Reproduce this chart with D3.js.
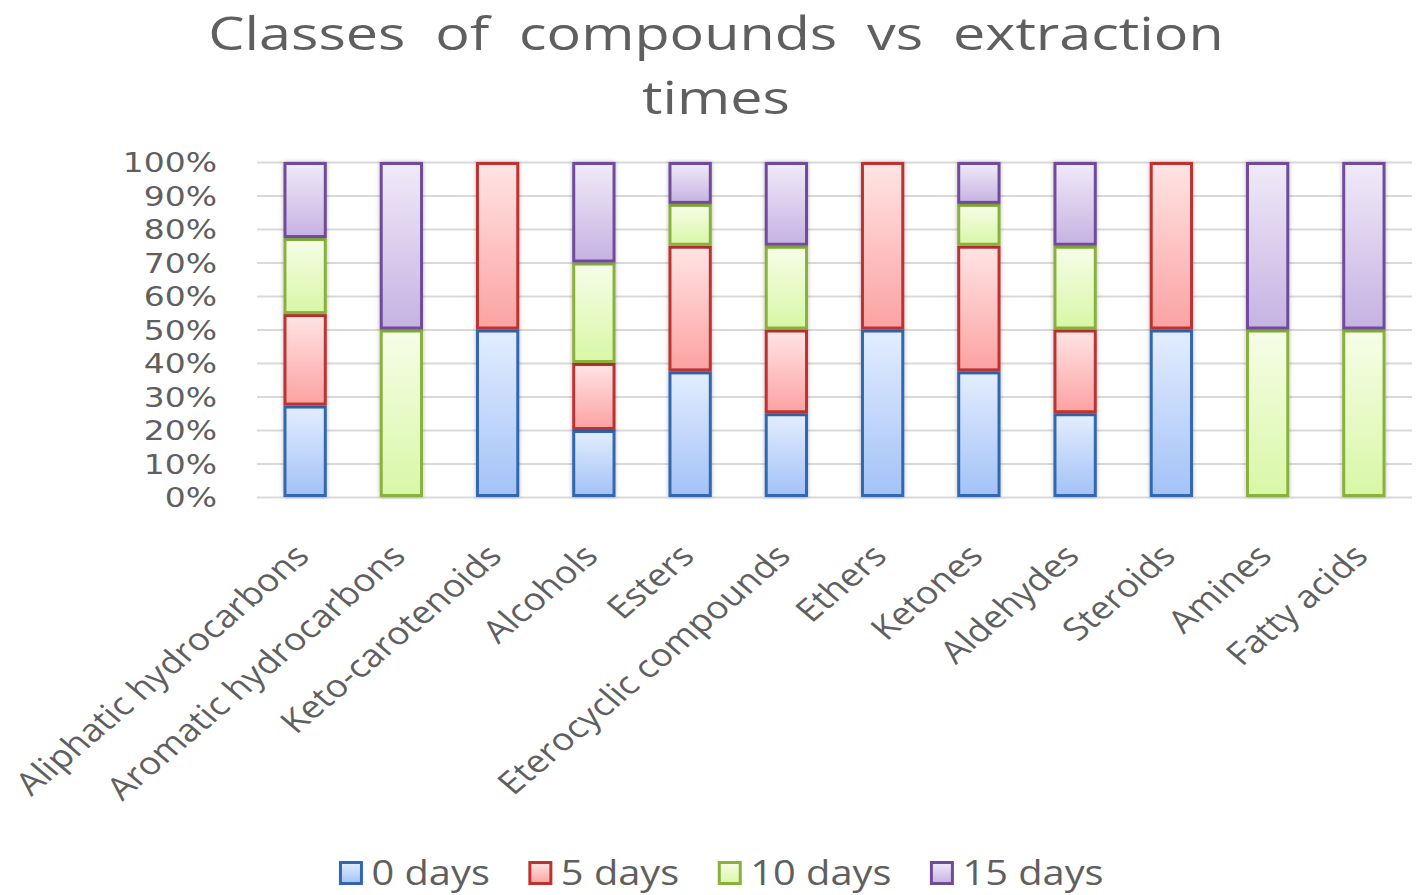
<!DOCTYPE html>
<html>
<head>
<meta charset="utf-8">
<script src="https://cdn.jsdelivr.net/npm/d3@7"></script>
<style>
  html, body { margin: 0; padding: 0; background: #ffffff; }
  svg { display: block; }
</style>
</head>
<body>
<svg id="chart" width="1418" height="895"></svg>
<script>
// ---------- data ----------
const titleLines = ["Classes  of  compounds  vs  extraction", "times"];
const categories = ["Aliphatic hydrocarbons", "Aromatic hydrocarbons", "Keto-carotenoids", "Alcohols",
  "Esters", "Eterocyclic compounds", "Ethers", "Ketones", "Aldehydes", "Steroids", "Amines", "Fatty acids"];
const seriesNames = ["0 days", "5 days", "10 days", "15 days"];
const days0  = [27.3, 0, 50, 20, 37.5, 25, 50, 37.5, 25, 50, 0, 0];
const days5  = [27.3, 0, 50, 20, 37.5, 25, 50, 37.5, 25, 50, 0, 0];
const days10 = [22.7, 50, 0, 30, 12.5, 25, 0, 12.5, 25, 0, 50, 50];
const days15 = [22.7, 50, 0, 30, 12.5, 25, 0, 12.5, 25, 0, 50, 50];
const yTicks = [0, 10, 20, 30, 40, 50, 60, 70, 80, 90, 100];

// ---------- styles ----------
const strokeColors = ["#3167b1", "#bd3330", "#89b13b", "#6f4c9b"];
const gradTop      = ["#e3edfe", "#ffe4e4", "#f6fde8", "#f0eaf8"];
const gradBottom   = ["#a3c2f7", "#fca2a2", "#d8f7a6", "#c6b2e2"];
const textColor = "#5f5f5f";
const stretch = 1.17;

const svg = d3.select("#chart");
const defs = svg.append("defs");
seriesNames.forEach((s, i) => {
  const g = defs.append("linearGradient").attr("id", "grad" + i)
    .attr("x1", 0).attr("y1", 0).attr("x2", 0).attr("y2", 1);
  g.append("stop").attr("offset", "0%").attr("stop-color", gradTop[i]);
  g.append("stop").attr("offset", "100%").attr("stop-color", gradBottom[i]);
});
const f = defs.append("filter").attr("id", "shadow").attr("x", "-30%").attr("y", "-10%").attr("width", "160%").attr("height", "120%");
f.append("feDropShadow").attr("dx", 0).attr("dy", 0).attr("stdDeviation", 2.2)
  .attr("flood-color", "#000").attr("flood-opacity", 0.28);

// ---------- scales ----------
const plot = { left: 257, right: 1412, top: 162, bottom: 497 };
const x = d3.scaleBand().domain(categories).range([plot.left, plot.right])
  .paddingInner(0.55).paddingOuter(0.275);
const y = d3.scaleLinear().domain([0, 100]).range([plot.bottom, plot.top]);

// ---------- title ----------
const title = svg.append("g").attr("font-family", "'Open Sans', sans-serif")
  .attr("font-size", 46).attr("fill", textColor);
const titleY = [50, 114];
titleLines.forEach((t, i) => {
  title.append("text").attr("text-anchor", "middle")
    .attr("transform", `translate(716,${titleY[i]}) scale(1.25,1)`)
    .style("white-space", "pre").attr("xml:space", "preserve")
    .text(t);
});

// ---------- y axis + grid ----------
const yAxis = d3.axisLeft(y).tickValues(yTicks).tickFormat(d => d + "%")
  .tickSizeInner(-(plot.right - plot.left)).tickSizeOuter(0).tickPadding(41);
const yg = svg.append("g").attr("transform", `translate(${plot.left},0)`).call(yAxis);
yg.select(".domain").remove();
yg.selectAll(".tick line").attr("stroke", "#d9d9d9").attr("stroke-width", 2);
yg.selectAll(".tick text")
  .attr("font-family", "'DejaVu Sans', sans-serif").attr("font-size", 27)
  .attr("fill", textColor)
  .attr("x", -40 / 1.22).attr("dy", "0.36em")
  .attr("transform", "scale(1.22,1)");

// ---------- bars ----------
const seriesData = [days0, days5, days10, days15];
const table = categories.map((c, i) => {
  const o = { category: c };
  seriesNames.forEach((s, k) => o[s] = seriesData[k][i]);
  return o;
});
const stacked = d3.stack().keys(seriesNames)(table);
const barsG = svg.append("g");
stacked.forEach((layer, k) => {
  barsG.append("g")
    .selectAll("rect")
    .data(layer.filter(d => d[1] - d[0] > 0))
    .join("rect")
    .attr("x", d => x(d.data.category) + 1.5)
    .attr("width", x.bandwidth() - 3)
    .attr("y", d => y(d[1]) + 1.5)
    .attr("height", d => y(d[0]) - y(d[1]) - 3)
    .attr("fill", `url(#grad${k})`)
    .attr("stroke", strokeColors[k])
    .attr("stroke-width", 3)
    .attr("filter", "url(#shadow)");
});

// ---------- x axis labels ----------
const xAxis = d3.axisBottom(x).tickSize(0).tickPadding(0);
const xg = svg.append("g").attr("transform", `translate(0,${plot.bottom})`).call(xAxis);
xg.select(".domain").remove();
xg.selectAll(".tick text")
  .attr("font-family", "'Open Sans', sans-serif").attr("font-size", 31.5)
  .attr("fill", textColor)
  .attr("text-anchor", "end")
  .attr("x", 0).attr("y", 0).attr("dy", "0.35em")
  .attr("transform", `translate(-3,53) scale(${stretch},1) rotate(-45)`);

// ---------- legend ----------
const legend = svg.append("g").attr("font-family", "'Open Sans', sans-serif")
  .attr("font-size", 34).attr("fill", textColor);
const legendY = 873, sq = 21, gapText = 10, gapItem = 40;
const items = seriesNames.map((s, i) => {
  const g = legend.append("g");
  g.append("rect").attr("x", 0).attr("y", -sq / 2).attr("width", sq).attr("height", sq)
    .attr("fill", `url(#grad${i})`).attr("stroke", strokeColors[i]).attr("stroke-width", 3);
  const t = g.append("text").attr("dy", "0.36em")
    .attr("transform", `translate(${sq + gapText},0) scale(${stretch},1)`).text(s);
  const w = sq + gapText + t.node().getComputedTextLength() * stretch;
  return { g, w };
});
const totalW = d3.sum(items, d => d.w) + gapItem * (items.length - 1);
let cx = 722 - totalW / 2;
items.forEach(it => {
  it.g.attr("transform", `translate(${cx},${legendY})`);
  cx += it.w + gapItem;
});
</script>
</body>
</html>
